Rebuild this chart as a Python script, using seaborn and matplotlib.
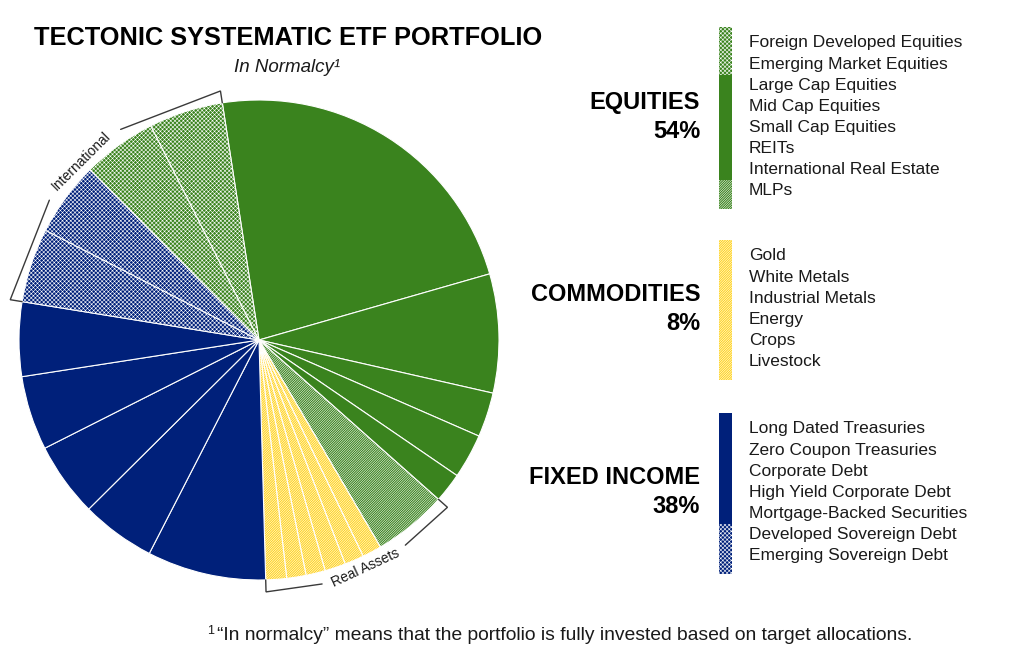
import itertools

import matplotlib
matplotlib.use("Agg")
import matplotlib.pyplot as plt
import numpy as np
import seaborn as sns
from matplotlib.patches import Rectangle

# pie slices, clockwise starting just left of 12 o'clock
slice_labels = [
    "Large Cap Equities", "Mid Cap Equities", "Small Cap Equities", "REITs",
    "International Real Estate", "MLPs",
    "Gold", "White Metals", "Industrial Metals", "Energy", "Crops", "Livestock",
    "Long Dated Treasuries", "Zero Coupon Treasuries", "Corporate Debt",
    "High Yield Corporate Debt", "Mortgage-Backed Securities",
    "Developed Sovereign Debt", "Emerging Sovereign Debt",
    "Foreign Developed Equities", "Emerging Market Equities",
]
slice_values = [23, 8, 3, 3, 2, 5,
                1.3, 1.3, 1.4, 1.3, 1.3, 1.4,
                8, 5, 5, 5, 5,
                5, 5,
                5, 5]
slice_groups = ["eq"] * 6 + ["com"] * 6 + ["fi"] * 7 + ["eq"] * 2
slice_styles = ["solid"] * 5 + ["diag"] * 7 + ["solid"] * 5 + ["cross"] * 4

# legend side
group_names = ["EQUITIES", "COMMODITIES", "FIXED INCOME"]
group_keys = ["eq", "com", "fi"]
group_pcts = ["54%", "8%", "38%"]
eq_items = ["Foreign Developed Equities", "Emerging Market Equities", "Large Cap Equities",
            "Mid Cap Equities", "Small Cap Equities", "REITs", "International Real Estate", "MLPs"]
eq_styles = ["cross", "cross", "solid", "solid", "solid", "solid", "solid", "diag"]
com_items = ["Gold", "White Metals", "Industrial Metals", "Energy", "Crops", "Livestock"]
com_styles = ["diag"] * 6
fi_items = ["Long Dated Treasuries", "Zero Coupon Treasuries", "Corporate Debt",
            "High Yield Corporate Debt", "Mortgage-Backed Securities",
            "Developed Sovereign Debt", "Emerging Sovereign Debt"]
fi_styles = ["solid"] * 5 + ["cross"] * 2

COLORS = {"eq": "#3A831E", "com": "#FFD320", "fi": "#00207A"}
HATCHES = {"solid": None, "cross": "x" * 8, "diag": "/" * 14}

sns.set_style("white")
plt.rcParams["font.family"] = ["Liberation Sans", "DejaVu Sans"]
plt.rcParams["text.color"] = "black"
plt.rcParams["hatch.linewidth"] = 0.4

W, H = 1024, 659
fig = plt.figure(figsize=(W / 100, H / 100), dpi=100)

# pie axes, laid out so one data unit = 240 px with centre at (259, 340)
cx, cy, rad = 259, 340, 240
left, right, top, bottom = 0, 520, 60, 620
ax = fig.add_axes([left / W, (H - bottom) / H, (right - left) / W, (bottom - top) / H])

start_cw = 351.2  # clockwise degrees from 12 o'clock
wedges, _ = ax.pie(slice_values, startangle=90 - start_cw, counterclock=False,
                   colors=[COLORS[g] for g in slice_groups],
                   wedgeprops=dict(edgecolor="white", linewidth=0.8))
for w, st in zip(wedges, slice_styles):
    if HATCHES[st]:
        w.set_hatch(HATCHES[st])
ax.set_xlim((left - cx) / rad, (right - cx) / rad)
ax.set_ylim((cy - bottom) / rad, (cy - top) / rad)
ax.set_aspect("auto")
ax.axis("off")

bounds = start_cw + np.concatenate([[0], np.cumsum(slice_values)]) / sum(slice_values) * 360


def polar(a, r):
    t = np.deg2rad(a)
    return r * np.sin(t), r * np.cos(t)


def bracket(a0, a1, text, gap, r=1.05):
    mid = (a0 + a1) / 2
    for s, e in [(a0, mid - gap), (mid + gap, a1)]:
        pts = [polar(s, r), polar(e, r)]
        if s == a0:
            pts = [polar(a0, 1.0)] + pts
        if e == a1:
            pts = pts + [polar(a1, 1.0)]
        xs, ys = zip(*pts)
        ax.plot(xs, ys, color="#3a3a3a", lw=1.0, clip_on=False, solid_joinstyle="miter")
    tx, ty = polar(mid, r)
    rot = -mid if np.cos(np.deg2rad(mid)) > 0 else 180 - mid
    ax.text(tx, ty, text, rotation=rot % 360, rotation_mode="anchor", ha="center",
            va="center", fontsize=10, color="#1a1a1a")


i_dev = slice_labels.index("Developed Sovereign Debt")
bracket(bounds[i_dev], bounds[-1], "International", gap=11.5)
i_mlp = slice_labels.index("MLPs")
i_live = slice_labels.index("Livestock")
bracket(bounds[i_mlp], bounds[i_live + 1], "Real Assets", gap=10.5)

# overlay axes in pixel coordinates for titles and legend
ov = fig.add_axes([0, 0, 1, 1])
ov.set_xlim(0, W)
ov.set_ylim(H, 0)
ov.axis("off")
ov.patch.set_visible(False)

ov.text(288, 38, "TECTONIC SYSTEMATIC ETF PORTFOLIO", ha="center", va="center",
        fontsize=18.3, fontweight="bold", color="black")
ov.text(287, 68, "In Normalcy\u00b9", ha="center", va="center", fontsize=13.5,
        style="italic", color="#1a1a1a")
ov.text(207, 631, "1", ha="left", va="center", fontsize=9, color="#1a1a1a")
ov.text(217, 636, "\u201cIn normalcy\u201d means that the portfolio is fully invested based on target allocations.",
        ha="left", va="center", fontsize=13.9, color="#1a1a1a")

group_items = [eq_items, com_items, fi_items]
group_styles = [eq_styles, com_styles, fi_styles]
first_y = [43, 256, 429]
step = 21.1
bar_x, bar_w, text_x = 719, 13, 749

for name, key, pct, items, styles, y0 in zip(group_names, group_keys, group_pcts,
                                              group_items, group_styles, first_y):
    ys = y0 + step * np.arange(len(items))
    for y, lab in zip(ys, items):
        ov.text(text_x, y, lab, ha="left", va="center", fontsize=12.5, color="#1a1a1a")
    edges = np.concatenate([[ys[0] - 16], (ys[:-1] + ys[1:]) / 2, [ys[-1] + 18]])
    idx = 0
    for st, run in itertools.groupby(styles):
        n = len(list(run))
        y_top, y_bot = edges[idx], edges[idx + n]
        ov.add_patch(Rectangle((bar_x, y_top), bar_w, y_bot - y_top, facecolor=COLORS[key],
                               edgecolor="white", linewidth=0, hatch=HATCHES[st]))
        idx += n
    yc = (ys[0] + ys[-1]) / 2
    ov.text(700, yc - 14.5, name, ha="right", va="center", fontsize=17, fontweight="bold")
    ov.text(700, yc + 14.5, pct, ha="right", va="center", fontsize=17, fontweight="bold")

fig.savefig("out.png", dpi=100)
